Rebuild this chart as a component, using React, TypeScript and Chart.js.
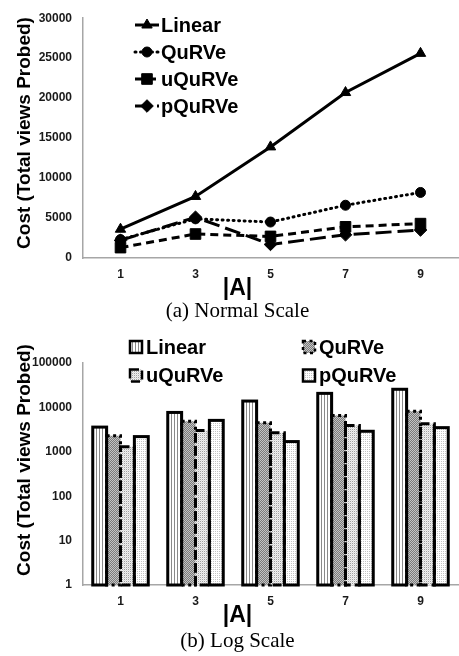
import React, { useEffect, useRef } from 'react';
import { Chart, registerables } from 'chart.js';

Chart.register(...registerables);

// ---------------- data ----------------
const categories = ['1', '3', '5', '7', '9'];
const seriesNames = ['Linear', 'QuRVe', 'uQuRVe', 'pQuRVe'];
const linearCost = [3600, 7700, 13900, 20700, 25600];
const qurveCost = [2300, 4900, 4500, 6600, 8200];
const uqurveCost = [1300, 3000, 2700, 3900, 4300];
const pqurveCost = [2200, 5100, 1700, 2900, 3500];
const normalTicks = [0, 5000, 10000, 15000, 20000, 25000, 30000];
const logTicks = [1, 10, 100, 1000, 10000, 100000];
const xTitle = '|A|';
const yTitle = 'Cost (Total views Probed)';
const captionA = '(a) Normal Scale';
const captionB = '(b) Log Scale';

// ---------------- styles ----------------
const W = 459;
const H = 300;
const SANS = "'Liberation Sans', Arial, Helvetica, sans-serif";
const SERIF = "'Liberation Serif', 'Times New Roman', Times, serif";
const AXIS_COLOR = '#a6a6a6';
const TICK_COLOR = '#1a1a1a';

const lineStyles = [
  { dash: [] as number[], cap: 'butt', marker: 'triangle', r: 6 },
  { dash: [1, 4.5], cap: 'round', marker: 'circle', r: 5 },
  { dash: [8, 5], cap: 'butt', marker: 'rect', r: 7.5 },
  { dash: [16, 6], cap: 'butt', marker: 'rectRot', r: 6.3 },
];
const barOutlineDash: number[][] = [[], [3, 3.5], [9, 4], []];

function drawMarker(ctx: CanvasRenderingContext2D, style: string, x: number, y: number, r: number) {
  ctx.beginPath();
  if (style === 'triangle') {
    ctx.moveTo(x, y - r);
    ctx.lineTo(x + r * 0.866, y + r * 0.5);
    ctx.lineTo(x - r * 0.866, y + r * 0.5);
    ctx.closePath();
  } else if (style === 'circle') {
    ctx.arc(x, y, r, 0, Math.PI * 2);
  } else if (style === 'rect') {
    const s = r * Math.SQRT1_2;
    ctx.rect(x - s, y - s, 2 * s, 2 * s);
  } else {
    ctx.moveTo(x - r, y);
    ctx.lineTo(x, y - r);
    ctx.lineTo(x + r, y);
    ctx.lineTo(x, y + r);
    ctx.closePath();
  }
  ctx.fill();
  ctx.stroke();
}

const titlesPlugin = {
  id: 'axisTitles',
  afterDraw(chart: any) {
    const ctx = chart.ctx as CanvasRenderingContext2D;
    ctx.save();
    ctx.fillStyle = '#000';
    ctx.textAlign = 'center';
    ctx.textBaseline = 'middle';
    ctx.font = `bold 23px ${SANS}`;
    ctx.fillText(xTitle, 237.5, 289);
    ctx.translate(24.5, 133);
    ctx.rotate(-Math.PI / 2);
    ctx.font = `bold 19px ${SANS}`;
    ctx.fillText(yTitle, 0, 0);
    ctx.restore();
  },
};

const lineLegendPlugin = {
  id: 'lineLegend',
  afterDraw(chart: any) {
    const ctx = chart.ctx as CanvasRenderingContext2D;
    chart.data.datasets.forEach((ds: any, i: number) => {
      const st = lineStyles[i];
      const y = 25 + i * 27;
      ctx.save();
      ctx.strokeStyle = '#000';
      ctx.fillStyle = '#000';
      ctx.lineWidth = 3;
      ctx.setLineDash(st.dash);
      ctx.lineCap = st.cap as CanvasLineCap;
      ctx.beginPath();
      ctx.moveTo(135, y);
      ctx.lineTo(159, y);
      ctx.stroke();
      ctx.setLineDash([]);
      ctx.lineWidth = 1;
      drawMarker(ctx, st.marker, 147, y, st.r);
      ctx.font = `bold 20px ${SANS}`;
      ctx.textAlign = 'left';
      ctx.textBaseline = 'middle';
      ctx.fillText(ds.label, 161, y + 1);
      ctx.restore();
    });
  },
};

const barOutlinePlugin = {
  id: 'barOutline',
  afterDatasetsDraw(chart: any) {
    const ctx = chart.ctx as CanvasRenderingContext2D;
    chart.data.datasets.forEach((_ds: any, i: number) => {
      const meta = chart.getDatasetMeta(i);
      meta.data.forEach((bar: any) => {
        const p = bar.getProps(['x', 'y', 'base', 'width'], true);
        ctx.save();
        ctx.strokeStyle = '#000';
        ctx.lineWidth = 3;
        ctx.setLineDash(barOutlineDash[i]);
        ctx.strokeRect(p.x - p.width / 2, p.y, p.width, p.base - p.y);
        ctx.restore();
      });
    });
  },
};

const barLegendPlugin = {
  id: 'barLegend',
  afterDraw(chart: any) {
    const ctx = chart.ctx as CanvasRenderingContext2D;
    const slots = [
      [130, 20],
      [303, 20],
      [130, 48.5],
      [303, 48.5],
    ];
    chart.data.datasets.forEach((ds: any, i: number) => {
      const [sx, sy] = slots[i];
      ctx.save();
      ctx.fillStyle = ds.backgroundColor;
      ctx.fillRect(sx, sy - 6, 12, 12);
      ctx.strokeStyle = '#000';
      ctx.lineWidth = 2.5;
      ctx.setLineDash(barOutlineDash[i]);
      ctx.strokeRect(sx, sy - 6, 12, 12);
      ctx.setLineDash([]);
      ctx.fillStyle = '#000';
      ctx.font = `bold 20px ${SANS}`;
      ctx.textAlign = 'left';
      ctx.textBaseline = 'middle';
      ctx.fillText(ds.label, sx + 16, sy + 1);
      ctx.restore();
    });
  },
};

function makePattern(rows: string[][]): CanvasPattern | string {
  const c = document.createElement('canvas');
  c.width = rows[0].length;
  c.height = rows.length;
  const g = c.getContext('2d');
  if (!g) return '#ccc';
  rows.forEach((row, y) =>
    row.forEach((col, x) => {
      g.fillStyle = col;
      g.fillRect(x, y, 1, 1);
    })
  );
  return g.createPattern(c, 'repeat') || '#ccc';
}

const tickFont = { family: SANS, size: 12, weight: 'bold' as const };

function commonScales(y: any) {
  return {
    x: {
      offset: true,
      grid: { display: false, drawTicks: false },
      border: { display: true, color: AXIS_COLOR, width: 1.5 },
      ticks: { font: tickFont, color: TICK_COLOR, padding: 9, maxRotation: 0 },
      afterFit: (s: any) => {
        s.height = 42;
        s.paddingLeft = 0;
        s.paddingRight = 0;
      },
    },
    y: {
      ...y,
      grid: { display: false, drawTicks: false },
      border: { display: true, color: AXIS_COLOR, width: 1.5 },
      afterFit: (s: any) => {
        s.width = 83;
      },
    },
  };
}

export default function App() {
  const lineRef = useRef<HTMLCanvasElement | null>(null);
  const barRef = useRef<HTMLCanvasElement | null>(null);

  useEffect(() => {
    const seriesValues = [linearCost, qurveCost, uqurveCost, pqurveCost];

    const lineChart = new Chart(lineRef.current as HTMLCanvasElement, {
      type: 'line',
      data: {
        labels: categories,
        datasets: seriesNames.map((name, i) => ({
          label: name,
          data: seriesValues[i],
          borderColor: '#000',
          backgroundColor: '#000',
          borderWidth: 3,
          borderDash: lineStyles[i].dash,
          borderCapStyle: lineStyles[i].cap as any,
          pointStyle: lineStyles[i].marker as any,
          pointRadius: lineStyles[i].r,
          pointBackgroundColor: '#000',
          pointBorderColor: '#000',
          pointBorderWidth: 1,
          tension: 0,
          fill: false,
          order: 4 - i,
        })),
      },
      options: {
        responsive: false,
        animation: false,
        events: [],
        layout: { autoPadding: false, padding: { top: 13, right: 1, bottom: 0, left: 0 } },
        plugins: { legend: { display: false }, tooltip: { enabled: false } },
        scales: commonScales({
          type: 'linear',
          min: normalTicks[0],
          max: normalTicks[normalTicks.length - 1],
          afterBuildTicks: (s: any) => {
            s.ticks = normalTicks.map((v) => ({ value: v }));
          },
          ticks: {
            font: tickFont,
            color: TICK_COLOR,
            padding: 11,
            callback: (v: any) => String(v),
          },
        }) as any,
      },
      plugins: [titlesPlugin, lineLegendPlugin],
    });

    const fills = [
      makePattern([['#8a8a8a', '#ffffff', '#ffffff']]),
      makePattern([
        ['#7a7a7a', '#c4c4c4'],
        ['#c4c4c4', '#7a7a7a'],
      ]),
      makePattern([
        ['#a0a0a0', '#f0f0f0'],
        ['#f0f0f0', '#dcdcdc'],
      ]),
      makePattern([
        ['#ffffff', '#c4c4c4'],
        ['#ffffff', '#ffffff'],
      ]),
    ];

    const barChart = new Chart(barRef.current as HTMLCanvasElement, {
      type: 'bar',
      data: {
        labels: categories,
        datasets: seriesNames.map((name, i) => ({
          label: name,
          data: seriesValues[i],
          backgroundColor: fills[i] as any,
          borderWidth: 0,
          categoryPercentage: 0.74,
          barPercentage: 1,
        })),
      },
      options: {
        responsive: false,
        animation: false,
        events: [],
        layout: { autoPadding: false, padding: { top: 36, right: 1, bottom: 0, left: 0 } },
        plugins: { legend: { display: false }, tooltip: { enabled: false } },
        scales: commonScales({
          type: 'logarithmic',
          min: logTicks[0],
          max: logTicks[logTicks.length - 1],
          afterBuildTicks: (s: any) => {
            s.ticks = logTicks.map((v) => ({ value: v }));
          },
          ticks: {
            font: tickFont,
            color: TICK_COLOR,
            padding: 11,
            callback: (v: any) => String(v),
          },
        }) as any,
      },
      plugins: [titlesPlugin, barOutlinePlugin, barLegendPlugin],
    });

    return () => {
      lineChart.destroy();
      barChart.destroy();
    };
  }, []);

  const captionStyle: React.CSSProperties = {
    position: 'absolute',
    left: 0,
    width: 475,
    textAlign: 'center',
    fontFamily: SERIF,
    fontSize: 21,
    lineHeight: '24px',
    color: '#000',
    whiteSpace: 'nowrap',
  };

  return (
    <div style={{ position: 'absolute', left: 0, top: 0, width: W, height: 656, background: '#fff', overflow: 'hidden' }}>
      <canvas ref={lineRef} width={W} height={H} style={{ position: 'absolute', left: 0, top: 0, width: W, height: H }} />
      <div style={{ ...captionStyle, top: 298 }}>{captionA}</div>
      <canvas ref={barRef} width={W} height={H} style={{ position: 'absolute', left: 0, top: 327, width: W, height: H }} />
      <div style={{ ...captionStyle, top: 628 }}>{captionB}</div>
    </div>
  );
}
